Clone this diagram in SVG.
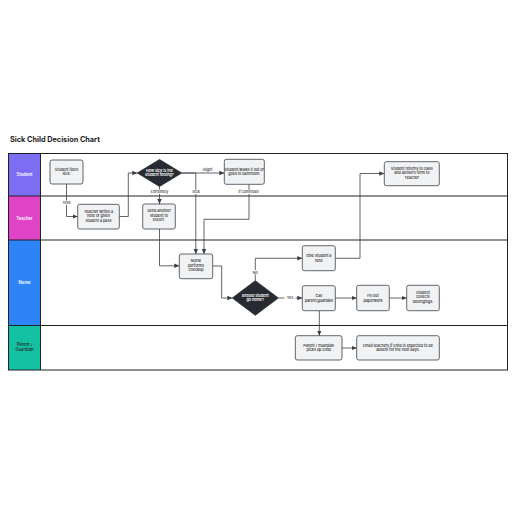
<svg xmlns="http://www.w3.org/2000/svg" width="516" height="516" viewBox="0 0 516 516">
<defs>
<style>
.box{fill:#f1f2f4;stroke:#3b4048;stroke-width:0.8}
.dia{fill:#272b31;stroke:#272b31;stroke-width:0.8}
.t{font-family:Inter,"Liberation Sans",sans-serif;font-size:3.7px;fill:#222;text-anchor:middle;font-weight:500}
.tw{font-family:Inter,"Liberation Sans",sans-serif;font-size:3.7px;fill:#fff;text-anchor:middle;font-weight:600}
.lane{font-family:Inter,"Liberation Sans",sans-serif;font-size:4.2px;fill:#fff;text-anchor:middle;font-weight:600}
.lbl{font-family:Inter,"Liberation Sans",sans-serif;font-size:3.7px;fill:#333;text-anchor:middle;font-weight:500}
.c{fill:none;stroke:#3a3d42;stroke-width:0.8;stroke-linejoin:round}
</style>
<marker id="ah" markerWidth="6" markerHeight="6" refX="5" refY="3" orient="auto" markerUnits="userSpaceOnUse">
<path d="M0,0.8 L5,3 L0,5.2 Z" fill="#3a3d42"/>
</marker>
</defs>
<rect width="516" height="516" fill="#fff"/>
<text x="10" y="142" font-family="Inter,'Liberation Sans',sans-serif" font-size="7.3" font-weight="700" fill="#222">Sick Child Decision Chart</text>

<g id="lanes">
<rect x="8.5" y="153.5" width="32" height="42.5" fill="#7b6ef3"/>
<rect x="8.5" y="196" width="32" height="44" fill="#e043c6"/>
<rect x="8.5" y="240" width="32" height="85.5" fill="#2d84f6"/>
<rect x="8.5" y="325.5" width="32" height="44.5" fill="#14c2a3"/>
<rect x="8.5" y="153.5" width="499" height="216.5" fill="none" stroke="#222" stroke-width="1"/>
<line x1="40.5" y1="153.5" x2="40.5" y2="370" stroke="#222" stroke-width="1"/>
<line x1="8.5" y1="196" x2="507.5" y2="196" stroke="#222" stroke-width="1"/>
<line x1="8.5" y1="240" x2="507.5" y2="240" stroke="#222" stroke-width="1"/>
<line x1="8.5" y1="325.5" x2="507.5" y2="325.5" stroke="#222" stroke-width="1"/>
<text class="lane" x="24.5" y="175.5">Student</text>
<text class="lane" x="24.5" y="219.5">Teacher</text>
<text class="lane" x="24.5" y="284">Nurse</text>
<text class="lane" x="24.5" y="346" style="fill:#222;font-weight:500">Parent /</text>
<text class="lane" x="24.5" y="351" style="fill:#222;font-weight:500">Guardian</text>
</g>

<g id="connectors">
<path class="c" d="M66.5,184 V216.5 H77.7" marker-end="url(#ah)"/>
<path class="c" d="M119.3,216.5 H128.3 V173 H137.3" marker-end="url(#ah)"/>
<path class="c" d="M159.5,186.5 V204" marker-end="url(#ah)"/>
<path class="c" d="M181.7,173 H224.3" marker-end="url(#ah)"/>
<path class="c" d="M181.7,173 H195.8 V254" marker-end="url(#ah)"/>
<path class="c" d="M249,184.3 V219.3 H204 V254" marker-end="url(#ah)"/>
<path class="c" d="M159.5,229 V265.8 H179.3" marker-end="url(#ah)"/>
<path class="c" d="M212.7,266 H221.7 V298 H232.3" marker-end="url(#ah)"/>
<path class="c" d="M255.3,280.7 V258.3 H302.3" marker-end="url(#ah)"/>
<path class="c" d="M278.3,298 H302.3" marker-end="url(#ah)"/>
<path class="c" d="M335.3,258.3 H360 V173.5 H384.3" marker-end="url(#ah)"/>
<path class="c" d="M335.3,298 H356.7" marker-end="url(#ah)"/>
<path class="c" d="M389.3,298 H406.7" marker-end="url(#ah)"/>
<path class="c" d="M319.3,310.7 V335.7" marker-end="url(#ah)"/>
<path class="c" d="M342,348 H356.7" marker-end="url(#ah)"/>
<rect x="60" y="200.5" width="13" height="4.5" fill="#fff"/>
<text class="lbl" x="66.5" y="204">Tells</text>
<rect x="148" y="189.5" width="23" height="4.5" fill="#fff"/>
<text class="lbl" x="159.5" y="193">Extremely</text>
<rect x="201" y="167" width="12" height="4.5" fill="#fff"/>
<text class="lbl" x="207.5" y="170.5">Slight</text>
<rect x="190" y="189.5" width="12" height="4.5" fill="#fff"/>
<text class="lbl" x="196" y="193">Sick</text>
<rect x="236" y="189.5" width="25" height="4.5" fill="#fff"/>
<text class="lbl" x="248.5" y="193">If continues</text>
<rect x="250" y="270" width="10.5" height="4.5" fill="#fff"/>
<text class="lbl" x="255.3" y="273.5">No</text>
<rect x="284.5" y="295.8" width="11" height="4.5" fill="#fff"/>
<text class="lbl" x="290" y="299.3">Yes</text>
</g>

<g id="n1"><rect class="box" x="50" y="160" width="33" height="24" rx="2"/><text class="t" x="66.5" y="170.5">Student feels</text><text class="t" x="66.5" y="175">sick.</text></g>
<g id="n2"><rect class="box" x="77.7" y="204.3" width="41.6" height="24.7" rx="2"/><text class="t" x="98.5" y="212.5">Teacher writes a</text><text class="t" x="98.5" y="217">note or gives</text><text class="t" x="98.5" y="221.5">student a pass</text></g>
<g id="n3"><path class="dia" d="M159.5,159.5 L181.7,173 L159.5,186.5 L137.3,173 Z"/><text class="tw" x="159.5" y="171.8">How sick is the</text><text class="tw" x="159.5" y="176.2">student feeling?</text></g>
<g id="n4"><rect class="box" x="142.7" y="204" width="32.6" height="25" rx="2"/><text class="t" x="159" y="212">Send another</text><text class="t" x="159" y="216.5">student to</text><text class="t" x="159" y="221">escort.</text></g>
<g id="n5"><rect class="box" x="224.3" y="159.3" width="40" height="25" rx="2"/><text class="t" x="244.3" y="170.5">Student walks it out or</text><text class="t" x="244.3" y="175">goes to bathroom.</text></g>
<g id="n6"><rect class="box" x="384.3" y="161.7" width="55" height="24" rx="2"/><text class="t" x="411.8" y="169.5">Student returns to class</text><text class="t" x="411.8" y="174">and delivers form to</text><text class="t" x="411.8" y="178.5">Teacher</text></g>
<g id="n7"><rect class="box" x="179.3" y="254" width="33.4" height="24.7" rx="2"/><text class="t" x="196" y="262">Nurse</text><text class="t" x="196" y="266.5">performs</text><text class="t" x="196" y="271">checkup</text></g>
<g id="n8"><path class="dia" d="M255.3,280.7 L278.3,298 L255.3,315.3 L232.3,298 Z"/><text class="tw" x="255.3" y="296.8">Should student</text><text class="tw" x="255.3" y="301.2">go home?</text></g>
<g id="n9"><rect class="box" x="302.3" y="245.7" width="33" height="25" rx="2"/><text class="t" x="318.8" y="257">Give student a</text><text class="t" x="318.8" y="261.5">note</text></g>
<g id="n10"><rect class="box" x="302.3" y="285.7" width="33" height="25" rx="2"/><text class="t" x="318.8" y="297">Call</text><text class="t" x="318.8" y="301.5">parent/guardian</text></g>
<g id="n11"><rect class="box" x="356.7" y="285.3" width="32.6" height="25.4" rx="2"/><text class="t" x="373" y="297">Fill out</text><text class="t" x="373" y="301.5">paperwork</text></g>
<g id="n12"><rect class="box" x="406.7" y="285.3" width="32.6" height="25.4" rx="2"/><text class="t" x="423" y="293.5">Student</text><text class="t" x="423" y="298">collects</text><text class="t" x="423" y="302.5">belongings.</text></g>
<g id="n13"><rect class="box" x="295.3" y="335.7" width="46.7" height="24.3" rx="2"/><text class="t" x="318.7" y="346.5">Parent / Guardian</text><text class="t" x="318.7" y="351">picks up child</text></g>
<g id="n14"><rect class="box" x="356.7" y="335.7" width="82.6" height="24.3" rx="2"/><text class="t" x="398" y="346.5">Email teachers if child is expected to be</text><text class="t" x="398" y="351">absent for the next days.</text></g>
</svg>
